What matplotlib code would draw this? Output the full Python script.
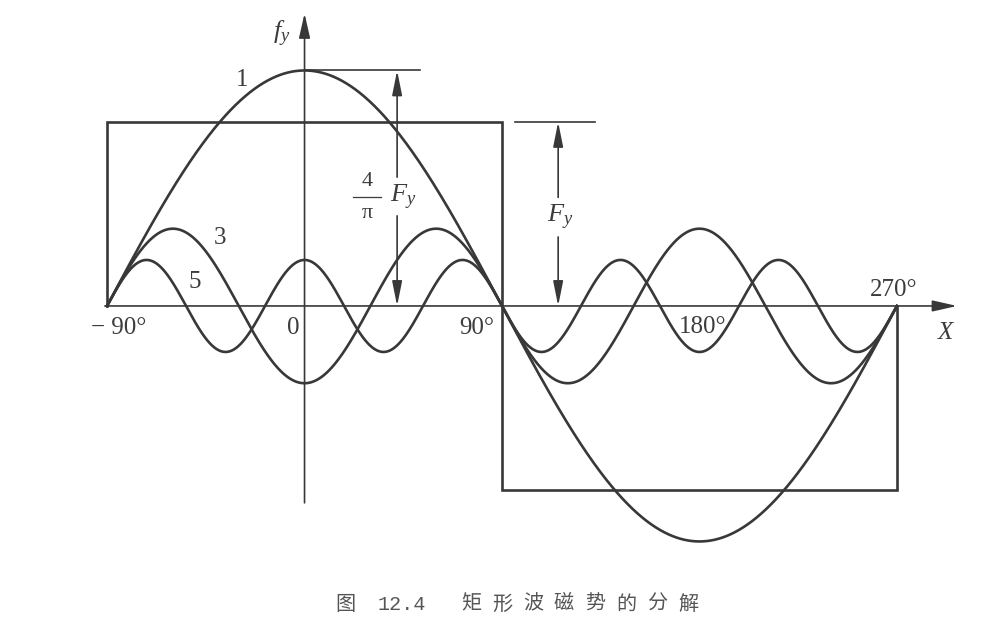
import numpy as np
import matplotlib.pyplot as plt
from matplotlib.patches import FancyArrowPatch

plt.rcParams['mathtext.fontset'] = 'custom'
plt.rcParams['mathtext.rm'] = 'Liberation Serif'
plt.rcParams['mathtext.it'] = 'Liberation Serif:italic'

# harmonics of the square wave, amplitude in units of F_y
harmonic_orders = [1, 3, 5]
harmonic_amps = [1.28, -0.42, 0.25]
harmonic_labels = ['1', '3', '5']
harmonic_label_pos = [(-28.5, 1.23), (-38.5, 0.37), (-49.9, 0.13)]

# rectangular mmf wave
rect_x = [-90, -90, 90, 90, 270, 270]
rect_y = [0, 1, 1, -1, -1, 0]

tick_labels = ['− 90°', '0', '90°', '180°', '270°']
tick_label_pos = [(-84.5, -0.12), (-5.2, -0.12), (78.6, -0.12), (181.6, -0.115), (268.3, 0.087)]

caption_fig = '图'
caption_num = '12.4'
caption_text = '矩形波磁势的分解'

LC = '#383838'
TC = '#3c3c3c'
LW = 1.9
SERIF = 'Liberation Serif'

fig = plt.figure(figsize=(10.04, 6.34), dpi=100)
ax = fig.add_axes([0, 0, 1, 1])
ax.set_xlim(-138.8, 318.8)
ax.set_ylim(-1.783, 1.663)
ax.axis('off')


def arrow(p0, p1, lw=1.2, hl=0.75, hw=0.17):
    a = FancyArrowPatch(p0, p1, arrowstyle='-|>,head_length=%g,head_width=%g' % (hl, hw),
                        mutation_scale=20, lw=lw, color=LC, shrinkA=0, shrinkB=0)
    ax.add_patch(a)


# coordinate axes
arrow((-91, 0), (297.4, 0))
arrow((0, -1.07), (0, 1.59))

# square wave
ax.plot(rect_x, rect_y, color=LC, lw=LW, solid_joinstyle='miter')

# harmonics
x = np.linspace(-90, 270, 1441)
for n, a, lab, pos in zip(harmonic_orders, harmonic_amps, harmonic_labels, harmonic_label_pos):
    ax.plot(x, a * np.cos(np.radians(n * x)), color=LC, lw=LW)
    ax.text(pos[0], pos[1], lab, fontsize=18, family=SERIF, color=TC, ha='center', va='center')

# tick labels
for lab, pos in zip(tick_labels, tick_label_pos):
    ax.text(pos[0], pos[1], lab, fontsize=18, family=SERIF, color=TC, ha='center', va='center')
ax.text(292, -0.147, 'X', fontsize=18, family=SERIF, style='italic', color=TC, ha='center', va='center')
ax.text(-10.2, 1.48, r'$f_y$', fontsize=19, color=TC, ha='center', va='center')

# dimension for 4/pi F_y
a1 = harmonic_amps[0]
ax.plot([0, 52.7], [a1, a1], color=LC, lw=1.2)
arrow((42.2, 0.70), (42.2, a1), hw=0.15)
arrow((42.2, 0.49), (42.2, 0), hw=0.15)
ax.text(28.5, 0.674, '4', fontsize=16, family=SERIF, color=TC, ha='center', va='center')
ax.plot([22.0, 34.8], [0.59, 0.59], color=TC, lw=0.9)
ax.text(28.5, 0.50, 'π', fontsize=16, family=SERIF, color=TC, ha='center', va='center')
ax.text(44.9, 0.59, r'$F_y$', fontsize=19, color=TC, ha='center', va='center')

# dimension for F_y
ax.plot([96, 132.4], [1, 1], color=LC, lw=1.2)
arrow((115.6, 0.59), (115.6, 1), hw=0.15)
arrow((115.6, 0.375), (115.6, 0), hw=0.15)
ax.text(116.5, 0.48, r'$F_y$', fontsize=19, color=TC, ha='center', va='center')

# caption
cap_kw = dict(fontsize=14.5, color='#555555', ha='center', va='center')
fig.text(345 / 1004, 1 - 604 / 634, caption_fig, family='Noto Sans CJK SC', **cap_kw)
fig.text(402 / 1004, 1 - 604 / 634, caption_num, family='Liberation Mono', **cap_kw)
for i, ch in enumerate(caption_text):
    fig.text((471 + 31 * i) / 1004, 1 - 604 / 634, ch, family='Noto Sans CJK SC', **cap_kw)

fig.savefig('out.png', dpi=100)
